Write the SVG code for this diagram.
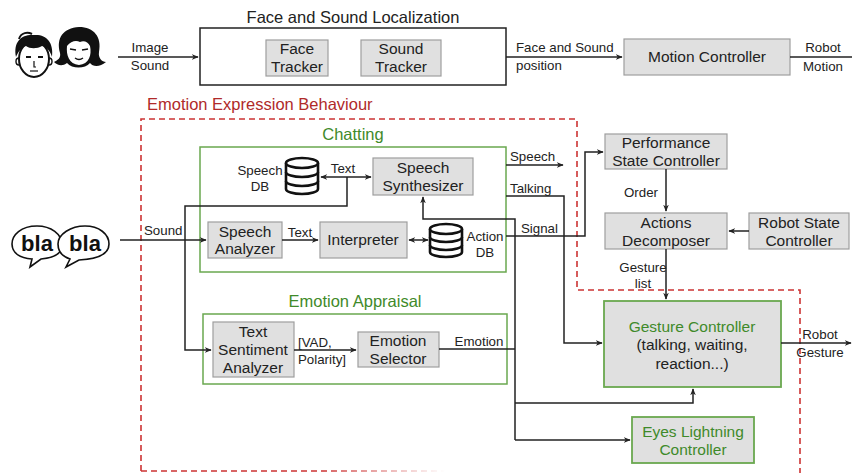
<svg xmlns="http://www.w3.org/2000/svg" width="852" height="473" viewBox="0 0 852 473">
  <defs>
    <marker id="arr" viewBox="0 0 10 10" refX="9" refY="5" markerWidth="7" markerHeight="7" orient="auto-start-reverse" markerUnits="userSpaceOnUse">
      <path d="M0,1 L10,5 L0,9 L3,5 Z" fill="#222"/>
    </marker>
    <linearGradient id="fade" gradientUnits="userSpaceOnUse" x1="141" y1="0" x2="445" y2="0">
      <stop offset="0.6" stop-color="#cc3333" stop-opacity="1"/>
      <stop offset="1" stop-color="#cc3333" stop-opacity="0"/>
    </linearGradient>
    <style>
      text { font-family: "Liberation Sans", Arial, sans-serif; fill: #222; }
      .box { fill: #e0e0e0; stroke: #9e9e9e; stroke-width: 1.2; }
      .gbox { fill: #e0e0e0; stroke: #6aa84f; stroke-width: 1.8; }
      .frame { fill: none; stroke: #6aa84f; stroke-width: 1.5; }
      .t14 { font-size: 15.5px; text-anchor: middle; }
      .t12 { font-size: 13.3px; }
      .c { text-anchor: middle; }
      .green { fill: #3f8a2a; }
      .title { font-size: 16.5px; text-anchor: middle; }
      .wire { fill: none; stroke: #222; stroke-width: 1.5; }
      .db { fill: #fff; stroke: #111; stroke-width: 2.6; }
      .dash { fill: none; stroke: #cc3333; stroke-width: 1.6; stroke-dasharray: 6 4; }
    </style>
  </defs>

  <!-- people icons -->
  <g id="people">
    <!-- boy -->
    <ellipse cx="34" cy="59" rx="15" ry="18" fill="#fff" stroke="#111" stroke-width="2"/>
    <path d="M16,57 C13,41 22,34 34,35 C46,34 54,42 52,57 C50,50 46,47 42,46 C37,49 30,49 26,46 C21,48 18,52 16,57 Z" fill="#111"/>
    <path d="M19,39 C21,32 28,32 32,34" fill="none" stroke="#111" stroke-width="2"/>
    <path d="M26,57 h5 M38,57 h5" stroke="#111" stroke-width="1.8"/>
    <path d="M34,61 v6 h2" fill="none" stroke="#111" stroke-width="1.2"/>
    <path d="M30,71 h8" stroke="#111" stroke-width="1.2"/>
    <path d="M19,58 c-4,0 -4,7 0,7 M49,58 c4,0 4,7 0,7" fill="none" stroke="#111" stroke-width="1.4"/>
    <!-- girl -->
    <path d="M60,53 C56,38 63,28 79,27 C94,27 102,37 99,52 C98,58 102,62 106,62 C100,67 93,67 90,63 C85,69 72,69 67,63 C62,67 57,65 54,62 C58,60 61,58 60,53 Z" fill="#111"/>
    <path d="M67,46 C71,41 76,40 80,42 C84,40 88,42 90,46 C92,55 89,64 79,65 C69,64 66,55 67,46 Z" fill="#fff"/>
    <path d="M70,49 l6,1 M82,50 l6,-1" stroke="#111" stroke-width="1.6"/>
    <path d="M75,58 q4,3 8,0" fill="none" stroke="#111" stroke-width="1.3"/>
  </g>

  <!-- bla bla speech bubbles -->
  <g id="blabla">
    <path d="M62,245 C62,234 51,226 37,226 C21,226 12,235 12,244 C12,253 20,258 32,259 L30,267 L41,259 C53,258 62,254 62,245 Z" fill="#fff" stroke="#111" stroke-width="1.6"/>
    <path d="M109,244 C109,234 99,226 85,226 C71,226 58,234 58,244 C58,253 64,257 70,259 L66,267 L79,260 C98,259 109,254 109,244 Z" fill="#fff" stroke="#111" stroke-width="1.6"/>
    <text x="37" y="251" class="c" style="font-size:22px;font-weight:bold;fill:#111">bla</text>
    <text x="85" y="251" class="c" style="font-size:22px;font-weight:bold;fill:#111">bla</text>
  </g>

  <!-- Face and Sound Localization -->
  <g id="localization">
    <text x="353" y="23" class="title">Face and Sound Localization</text>
    <rect x="200" y="28" width="306" height="57" fill="#fff" stroke="#222" stroke-width="1.5"/>
  </g>
  <g id="face-tracker">
    <rect x="266" y="40" width="62" height="36" class="box"/>
    <text x="297" y="54" class="t14">Face</text>
    <text x="297" y="72" class="t14">Tracker</text>
  </g>
  <g id="sound-tracker">
    <rect x="361" y="40" width="80" height="36" class="box"/>
    <text x="401" y="54" class="t14">Sound</text>
    <text x="401" y="72" class="t14">Tracker</text>
  </g>
  <g id="motion-controller">
    <rect x="624" y="39" width="166" height="36" class="box"/>
    <text x="707" y="62" class="t14">Motion Controller</text>
  </g>

  <!-- Emotion Expression Behaviour region -->
  <g id="emotion-expression-behaviour">
    <text x="147" y="110" style="font-size:16.5px;fill:#b02a2a">Emotion Expression Behaviour</text>
    <path d="M141,471 V119 H577 V290 H800 V473" class="dash"/>
    <path d="M141,471 H445" fill="none" stroke="url(#fade)" stroke-width="1.6" stroke-dasharray="6 4"/>
  </g>

  <!-- Chatting -->
  <g id="chatting">
    <text x="353" y="140" class="title green">Chatting</text>
    <rect x="200" y="147" width="306" height="125" class="frame"/>
  </g>
  <g id="speech-db">
    <path d="M286,163 V189 A16,5 0 0 0 318,189 V163" class="db"/>
    <ellipse cx="302" cy="163" rx="16" ry="5" class="db"/>
    <path d="M286,172 A16,5 0 0 0 318,172 M286,181 A16,5 0 0 0 318,181" class="db" fill="none"/>
    <text x="260" y="175" class="t12 c">Speech</text>
    <text x="260" y="191" class="t12 c">DB</text>
  </g>
  <g id="speech-synthesizer">
    <rect x="373" y="158" width="100" height="37" class="box"/>
    <text x="423" y="173" class="t14">Speech</text>
    <text x="423" y="191" class="t14">Synthesizer</text>
  </g>
  <g id="speech-analyzer">
    <rect x="208" y="222" width="74" height="36" class="box"/>
    <text x="245" y="237" class="t14">Speech</text>
    <text x="245" y="254" class="t14">Analyzer</text>
  </g>
  <g id="interpreter">
    <rect x="320" y="222" width="87" height="36" class="box"/>
    <text x="363" y="245" class="t14">Interpreter</text>
  </g>
  <g id="action-db">
    <path d="M430,229 V252 A16,5 0 0 0 462,252 V229" class="db"/>
    <ellipse cx="446" cy="229" rx="16" ry="5" class="db"/>
    <path d="M430,237 A16,5 0 0 0 462,237 M430,245 A16,5 0 0 0 462,245" class="db" fill="none"/>
    <text x="485" y="241" class="t12 c">Action</text>
    <text x="485" y="257" class="t12 c">DB</text>
  </g>

  <!-- Emotion Appraisal -->
  <g id="emotion-appraisal">
    <text x="355" y="307" class="title green">Emotion Appraisal</text>
    <rect x="203" y="314" width="304" height="70" class="frame"/>
  </g>
  <g id="text-sentiment-analyzer">
    <rect x="213" y="322" width="81" height="55" class="box"/>
    <text x="253" y="337" class="t14">Text</text>
    <text x="253" y="355" class="t14">Sentiment</text>
    <text x="253" y="373" class="t14">Analyzer</text>
  </g>
  <g id="emotion-selector">
    <rect x="358" y="332" width="81" height="35" class="box"/>
    <text x="398" y="346" class="t14">Emotion</text>
    <text x="398" y="364" class="t14">Selector</text>
  </g>

  <!-- right column -->
  <g id="performance-state-controller">
    <rect x="605" y="134" width="122" height="35" class="box"/>
    <text x="666" y="148" class="t14">Performance</text>
    <text x="666" y="166" class="t14">State Controller</text>
  </g>
  <g id="actions-decomposer">
    <rect x="605" y="213" width="122" height="36" class="box"/>
    <text x="666" y="228" class="t14">Actions</text>
    <text x="666" y="246" class="t14">Decomposer</text>
  </g>
  <g id="robot-state-controller">
    <rect x="749" y="213" width="100" height="36" class="box"/>
    <text x="799" y="228" class="t14">Robot State</text>
    <text x="799" y="246" class="t14">Controller</text>
  </g>
  <g id="gesture-controller">
    <rect x="604" y="301" width="177" height="86" class="gbox"/>
    <text x="692" y="332" class="t14 green">Gesture Controller</text>
    <text x="692" y="350" class="t14">(talking, waiting,</text>
    <text x="692" y="369" class="t14">reaction...)</text>
  </g>
  <g id="eyes-lightning-controller">
    <rect x="632" y="417" width="122" height="46" class="gbox"/>
    <text x="693" y="437" class="t14 green">Eyes Lightning</text>
    <text x="693" y="455" class="t14 green">Controller</text>
  </g>

  <!-- connectors -->
  <g id="connectors">
    <path d="M118,57 H198" class="wire" marker-end="url(#arr)"/>
    <path d="M506,57 H622" class="wire" marker-end="url(#arr)"/>
    <path d="M790,57 H852" class="wire"/>
    <path d="M120,240 H206" class="wire" marker-end="url(#arr)"/>
    <path d="M321,177 H371" class="wire" marker-start="url(#arr)" marker-end="url(#arr)"/>
    <path d="M347,177 V206 H185 V350 H211" class="wire" marker-end="url(#arr)"/>
    <path d="M282,240 H318" class="wire" marker-end="url(#arr)"/>
    <path d="M409,240 H428" class="wire" marker-start="url(#arr)" marker-end="url(#arr)"/>
    <path d="M294,350 H356" class="wire" marker-end="url(#arr)"/>
    <path d="M439,349 H515" class="wire"/>
    <path d="M515,440 V219 H423 V197" class="wire" marker-end="url(#arr)"/>
    <path d="M515,403 H693 V389" class="wire" marker-end="url(#arr)"/>
    <path d="M515,440 H630" class="wire" marker-end="url(#arr)"/>
    <path d="M506,165 H563" class="wire" marker-end="url(#arr)"/>
    <path d="M506,196 H564 V343 H602" class="wire" marker-end="url(#arr)"/>
    <path d="M506,236 H585 V152 H603" class="wire" marker-end="url(#arr)"/>
    <path d="M666,169 V211" class="wire" marker-end="url(#arr)"/>
    <path d="M749,231 H729" class="wire" marker-end="url(#arr)"/>
    <path d="M666,249 V299" class="wire" marker-end="url(#arr)"/>
    <path d="M781,343 H851" class="wire" marker-end="url(#arr)"/>
  </g>

  <!-- connector labels -->
  <g id="labels" class="t12">
    <text x="150" y="52" class="c">Image</text>
    <text x="150" y="70" class="c">Sound</text>
    <text x="516" y="52">Face and Sound</text>
    <text x="516" y="70">position</text>
    <text x="823" y="52" class="c">Robot</text>
    <text x="823" y="71" class="c">Motion</text>
    <text x="144" y="235">Sound</text>
    <text x="343" y="173" class="c">Text</text>
    <text x="300" y="237" class="c">Text</text>
    <text x="298" y="347">[VAD,</text>
    <text x="298" y="364">Polarity]</text>
    <text x="479" y="346" class="c">Emotion</text>
    <text x="510" y="161">Speech</text>
    <text x="510" y="193">Talking</text>
    <text x="521" y="233">Signal</text>
    <text x="641" y="197" class="c">Order</text>
    <text x="643" y="272" class="c">Gesture</text>
    <text x="643" y="288" class="c">list</text>
    <text x="820" y="339" class="c">Robot</text>
    <text x="820" y="357" class="c">Gesture</text>
  </g>
</svg>
